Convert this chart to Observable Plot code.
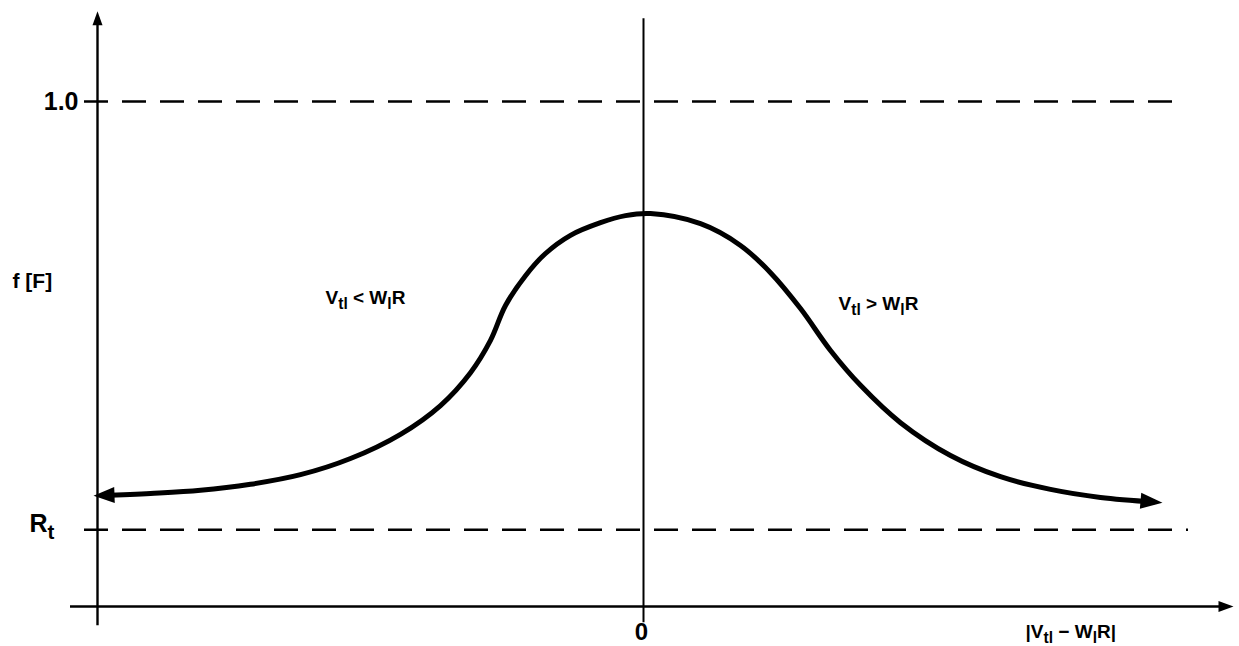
<!DOCTYPE html>
<html>
<head>
<meta charset="utf-8">
<script src="https://cdn.jsdelivr.net/npm/d3@7"></script>
<script src="https://cdn.jsdelivr.net/npm/@observablehq/plot@0.6"></script>
<style>
  body { margin: 0; background: #fff; }
  svg { display: block; }
</style>
</head>
<body>
<div id="chart"></div>
<script>
// Response curve f[F] against |V_tl − W_l R|, centred on 0
const curveX = [-5.42, -4.93, -4.43, -3.93, -3.43, -2.93, -2.43, -2.03, -1.73, -1.53, -1.38, -1.18, -0.98, -0.73,
                -0.43, -0.18, 0.07, 0.57, 0.97, 1.27, 1.57, 1.87, 2.17, 2.57, 3.07, 3.57, 4.07, 4.57, 5.11];
const curveF = [0.220, 0.224, 0.230, 0.242, 0.261, 0.293, 0.341, 0.398, 0.463, 0.527, 0.596, 0.655, 0.699, 0.735,
                0.760, 0.774, 0.778, 0.758, 0.715, 0.661, 0.590, 0.507, 0.438, 0.364, 0.299, 0.257, 0.232, 0.216, 0.207];

// Reference levels on the vertical axis
const levelValues = [1.0, 0.152];
const levelLabels = ["1.0", "R_{t}"];

// Axis and region labels
const yTitle = "f [F]";
const xTitle = "|V_{tl} − W_{l}R|";
const originLabel = "0";
const regionLabels = ["V_{tl} < W_{l}R", "V_{tl} > W_{l}R"];

const curve = curveX.map((x, i) => ({x, f: curveF[i]}));

// Filled arrowhead pointing along +x, tip placed `ahead` px past the anchor
function arrowHead(len, wid, ahead) {
  return {
    draw(ctx) {
      ctx.moveTo(ahead, 0);
      ctx.lineTo(ahead - len, -wid / 2);
      ctx.lineTo(ahead - len, wid / 2);
      ctx.closePath();
    }
  };
}

const yAxisX = -5.46;
const font = "'Liberation Sans', Arial, Helvetica, sans-serif";

const chart = Plot.plot({
  width: 1239,
  height: 646,
  margin: 0,
  style: {background: "#fff", fontFamily: font},
  x: {domain: [-6.43, 5.96], axis: null},
  y: {domain: [-0.0792, 1.2], axis: null},
  marks: [
    // dashed reference levels
    Plot.ruleY(levelValues, {x1: -5.59, x2: (d) => (d === 1 ? 5.39 : 5.45), stroke: "#000", strokeWidth: 2.6, strokeDasharray: "24,14"}),
    // vertical axis
    Plot.ruleX([yAxisX], {y1: -0.038, y2: 1.165, stroke: "#000", strokeWidth: 2.4}),
    Plot.dot([{x: yAxisX, y: 1.165}], {x: "x", y: "y", symbol: arrowHead(14, 10, 7), rotate: -90, fill: "#000", stroke: "none"}),
    // horizontal axis
    Plot.ruleY([0], {x1: -5.73, x2: 5.80, stroke: "#000", strokeWidth: 2.4}),
    Plot.dot([{x: 5.80, y: 0}], {x: "x", y: "y", symbol: arrowHead(15, 11, 10), rotate: 0, fill: "#000", stroke: "none"}),
    // centre line at 0
    Plot.ruleX([0], {y1: -0.032, y2: 1.164, stroke: "#000", strokeWidth: 2}),
    // the curve with arrowheads at both ends
    Plot.line(curve, {x: "x", y: "f", curve: "catmull-rom", stroke: "#000", strokeWidth: 5, strokeLinecap: "butt"}),
    Plot.dot([curve[0]], {x: "x", y: "f", symbol: arrowHead(21, 16, 8), rotate: 178, fill: "#000", stroke: "none"}),
    Plot.dot([curve[curve.length - 1]], {x: "x", y: "f", symbol: arrowHead(22, 16, 8), rotate: 5, fill: "#000", stroke: "none"}),
    // level labels
    Plot.text([levelLabels[0]], {x: -5.65, y: levelValues[0], text: (d) => d, textAnchor: "end", fontSize: 25, fontWeight: "bold"}),
    Plot.text([levelLabels[1]], {x: -6.14, y: 0.164, text: (d) => d, textAnchor: "start", fontSize: 25, fontWeight: "bold"}),
    // axis titles
    Plot.text([yTitle], {x: -6.31, y: 0.644, text: (d) => d, textAnchor: "start", fontSize: 21, fontWeight: "bold"}),
    Plot.text([xTitle], {x: 3.82, y: -0.05, text: (d) => d, textAnchor: "start", fontSize: 19, fontWeight: "bold"}),
    Plot.text([originLabel], {x: -0.02, y: -0.052, text: (d) => d, fontSize: 24, fontWeight: "bold"}),
    // region labels
    Plot.text([regionLabels[0]], {x: -3.18, y: 0.612, text: (d) => d, textAnchor: "start", fontSize: 19, fontWeight: "bold"}),
    Plot.text([regionLabels[1]], {x: 1.95, y: 0.600, text: (d) => d, textAnchor: "start", fontSize: 19, fontWeight: "bold"})
  ]
});

document.getElementById("chart").appendChild(chart);

// Turn "_{...}" markup into lowered, smaller tspans
const NS = "http://www.w3.org/2000/svg";
chart.querySelectorAll("text").forEach((t) => {
  const s = t.textContent;
  if (!s.includes("_{")) return;
  const size = parseFloat(getComputedStyle(t).fontSize) || 16;
  const shift = size * 0.28;
  const parts = [];
  const re = /_\{([^}]*)\}/g;
  let last = 0, m;
  while ((m = re.exec(s))) {
    if (m.index > last) parts.push({str: s.slice(last, m.index), sub: false});
    parts.push({str: m[1], sub: true});
    last = re.lastIndex;
  }
  if (last < s.length) parts.push({str: s.slice(last), sub: false});
  t.textContent = "";
  let lowered = false;
  for (const p of parts) {
    const sp = document.createElementNS(NS, "tspan");
    sp.textContent = p.str;
    if (p.sub) {
      sp.setAttribute("font-size", size * 0.82);
      if (!lowered) sp.setAttribute("dy", shift);
      lowered = true;
    } else if (lowered) {
      sp.setAttribute("dy", -shift);
      lowered = false;
    }
    t.appendChild(sp);
  }
});
</script>
</body>
</html>
